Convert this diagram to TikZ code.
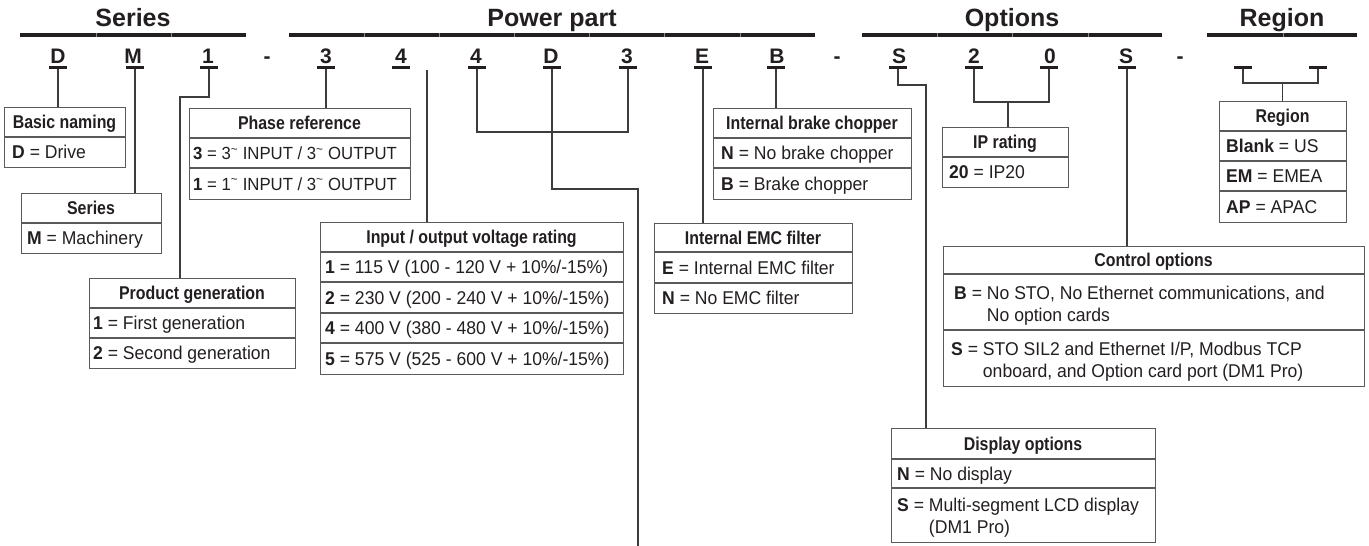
\documentclass[tikz,border=0pt]{standalone}
\usepackage{fontspec}
\setmainfont{Liberation Sans}[FakeStretch=0.95]
\newfontfamily\hdfont{Liberation Sans}[FakeStretch=0.86]
\newfontfamily\titlefont{Liberation Sans}
\definecolor{ink}{HTML}{231F20}
\definecolor{boxgray}{HTML}{5A5A5A}
\definecolor{linegray}{HTML}{3C3C3C}
\definecolor{sepgray}{HTML}{8A8A8A}
\newcommand\tld{\textsuperscript{\textasciitilde}}
\tikzset{
  frame/.style={draw=boxgray, line width=1.2pt, inner sep=0pt, anchor=north west},
  divider/.style={draw=boxgray, line width=1.2pt},
  hd/.style={anchor=base, text=ink, font=\hdfont\bfseries\fontsize{18.5}{20}\selectfont, inner sep=0pt},
  rowtxt/.style={anchor=base west, text=ink, font=\fontsize{18.5}{22}\selectfont, inner sep=0pt},
  rowtight/.style={rowtxt, font=\fontsize{17.6}{22}\selectfont},
  conn/.style={draw=linegray, line width=1.2pt},
  code/.style={anchor=base, font=\titlefont\bfseries\fontsize{21}{24}\selectfont, text=ink, inner sep=0pt},
  uline/.style={fill=ink, minimum width=18pt, minimum height=3pt, inner sep=0pt},
  title/.style={anchor=base, font=\titlefont\bfseries\fontsize{25}{28}\selectfont, text=ink, inner sep=0pt},
}
\begin{document}
\begin{tikzpicture}[x=1pt,y=-1pt]
\useasboundingbox[fill=white] (0,0) rectangle (1369,546);

% ---- titles and bars
\node[title] (tSeries) at (133,27) {Series};
\node[title] (tPower) at (552,27) {Power part};
\node[title] (tOptions) at (1012,27) {Options};
\node[title] (tRegion) at (1282,27) {Region};
\fill[ink] (20,32.5) rectangle (246,37);
\fill[ink] (289,32.5) rectangle (815,37);
\fill[ink] (862,32.5) rectangle (1162,37);
\fill[ink] (1207,32.5) rectangle (1357,37);
\foreach \sx in {96,171,364,439,514,589,664,740,937,1012,1088,1283}
  \draw[sepgray, line width=0.8pt] (\sx,32.5) -- (\sx,37);

% ---- code letters
\node[code] (cD) at (58,63) {D};
\node[code] (cM) at (133,63) {M};
\node[code] (c1) at (208,63) {1};
\node[code] (dash1) at (267,63) {-};
\node[code] (c3) at (326,63) {3};
\node[code] (c4) at (401,63) {4};
\node[code] (c4b) at (476,63) {4};
\node[code] (cDb) at (551,63) {D};
\node[code] (c3b) at (627,63) {3};
\node[code] (cE) at (702,63) {E};
\node[code] (cB) at (777,63) {B};
\node[code] (dash2) at (837,63) {-};
\node[code] (cS1) at (899,63) {S};
\node[code] (c2) at (974,63) {2};
\node[code] (c0) at (1050,63) {0};
\node[code] (cS2) at (1126,63) {S};
\node[code] (dash3) at (1180,63) {-};

\node[uline] (uD) at (58,67) {};
\node[uline] (uM) at (135,67) {};
\node[uline] (u1) at (209,67) {};
\node[uline] (u3) at (326,67) {};
\node[uline] (u4) at (401,67) {};
\node[uline] (u4b) at (477,67) {};
\node[uline] (uDb) at (552,67) {};
\node[uline] (u3b) at (628,67) {};
\node[uline] (uE) at (703,67) {};
\node[uline] (uB) at (776,67) {};
\node[uline] (uS1) at (898,67) {};
\node[uline] (u2) at (974,67) {};
\node[uline] (u0) at (1049,67) {};
\node[uline] (uS2) at (1127,67) {};
\node[uline] (uR1) at (1243,67) {};
\node[uline] (uR2) at (1318,67) {};

% ---- boxes
% Basic naming
\node[frame, minimum width=121pt, minimum height=60pt] (basic) at (4,107) {};
\draw[divider] (4,137) -- (125,137);
\node[hd] (basicH) at (64.5,128.7) {Basic naming};
\node[rowtxt] (basic1) at (12,158.7) {\textbf{D} = Drive};

% Series
\node[frame, minimum width=140pt, minimum height=60pt] (series) at (21,193) {};
\draw[divider] (21,223) -- (161,223);
\node[hd] (seriesH) at (91,214.7) {Series};
\node[rowtxt] (series1) at (27,244.7) {\textbf{M} = Machinery};

% Product generation
\node[frame, minimum width=206pt, minimum height=90pt] (prodgen) at (89,278) {};
\draw[divider] (89,308) -- (295,308);
\draw[divider] (89,338) -- (295,338);
\node[hd] (prodgenH) at (192,299.7) {Product generation};
\node[rowtxt] (prodgen1) at (93,329.7) {\textbf{1} = First generation};
\node[rowtxt] (prodgen2) at (93,359.7) {\textbf{2} = Second generation};

% Phase reference
\node[frame, minimum width=221pt, minimum height=91pt] (phase) at (189,108) {};
\draw[divider] (189,138) -- (410,138);
\draw[divider] (189,168) -- (410,168);
\node[hd] (phaseH) at (299.5,129.7) {Phase reference};
\node[rowtight] (phase1) at (193,159.7) {\textbf{3} = 3\tld{} INPUT / 3\tld{} OUTPUT};
\node[rowtight] (phase2) at (193,190.2) {\textbf{1} = 1\tld{} INPUT / 3\tld{} OUTPUT};

% Voltage rating
\node[frame, minimum width=303pt, minimum height=152pt] (volt) at (320,222) {};
\draw[divider] (320,252) -- (623,252);
\draw[divider] (320,282) -- (623,282);
\draw[divider] (320,313) -- (623,313);
\draw[divider] (320,343) -- (623,343);
\node[hd] (voltH) at (471.5,243.7) {Input / output voltage rating};
\node[rowtxt] (volt1) at (325,273.7) {\textbf{1} = 115 V (100 - 120 V + 10\%/-15\%)};
\node[rowtxt] (volt2) at (325,304.2) {\textbf{2} = 230 V (200 - 240 V + 10\%/-15\%)};
\node[rowtxt] (volt3) at (325,334.7) {\textbf{4} = 400 V (380 - 480 V + 10\%/-15\%)};
\node[rowtxt] (volt4) at (325,365.2) {\textbf{5} = 575 V (525 - 600 V + 10\%/-15\%)};

% Internal brake chopper
\node[frame, minimum width=198pt, minimum height=91pt] (brake) at (713,108) {};
\draw[divider] (713,138) -- (911,138);
\draw[divider] (713,168) -- (911,168);
\node[hd] (brakeH) at (812,129.7) {Internal brake chopper};
\node[rowtxt] (brake1) at (721,159.7) {\textbf{N} = No brake chopper};
\node[rowtxt] (brake2) at (721,190.2) {\textbf{B} = Brake chopper};

% Internal EMC filter
\node[frame, minimum width=198pt, minimum height=90pt] (emc) at (654,223) {};
\draw[divider] (654,252) -- (852,252);
\draw[divider] (654,283) -- (852,283);
\node[hd] (emcH) at (753,244.2) {Internal EMC filter};
\node[rowtxt] (emc1) at (662,274.2) {\textbf{E} = Internal EMC filter};
\node[rowtxt] (emc2) at (662,304.7) {\textbf{N} = No EMC filter};

% IP rating
\node[frame, minimum width=126pt, minimum height=60pt] (ip) at (942,127) {};
\draw[divider] (942,157) -- (1068,157);
\node[hd] (ipH) at (1005,148.7) {IP rating};
\node[rowtxt] (ip1) at (949,178.7) {\textbf{20} = IP20};

% Region
\node[frame, minimum width=127pt, minimum height=121pt] (region) at (1219,101) {};
\draw[divider] (1219,131) -- (1346,131);
\draw[divider] (1219,161) -- (1346,161);
\draw[divider] (1219,191) -- (1346,191);
\node[hd] (regionH) at (1282.5,122.7) {Region};
\node[rowtxt] (region1) at (1226,152.7) {\textbf{Blank} = US};
\node[rowtxt] (region2) at (1226,182.7) {\textbf{EM} = EMEA};
\node[rowtxt] (region3) at (1226,213.2) {\textbf{AP} = APAC};

% Control options
\node[frame, minimum width=421pt, minimum height=140pt] (control) at (943,246) {};
\draw[divider] (943,274) -- (1364,274);
\draw[divider] (943,330) -- (1364,330);
\node[hd] (controlH) at (1153.5,266.7) {Control options};
\node[rowtxt] (control1) at (954,299) {\textbf{B} = \parbox[t]{400pt}{No STO, No Ethernet communications, and\\No option cards}};
\node[rowtxt] (control2) at (951,355) {\textbf{S} = \parbox[t]{400pt}{STO SIL2 and Ethernet I/P, Modbus TCP\\onboard, and Option card port (DM1 Pro)}};

% Display options
\node[frame, minimum width=264pt, minimum height=114pt] (display) at (891,428) {};
\draw[divider] (891,459) -- (1155,459);
\draw[divider] (891,488) -- (1155,488);
\node[hd] (displayH) at (1023,450.2) {Display options};
\node[rowtxt] (display1) at (897,480.2) {\textbf{N} = No display};
\node[rowtxt] (display2) at (897,511) {\textbf{S} = \parbox[t]{240pt}{Multi-segment LCD display\\(DM1 Pro)}};

% ---- connectors
\coordinate (k1) at (180,97);
\coordinate (vtop) at (427,70);
\coordinate (b43) at (0,132);
\coordinate (kD) at (638,189);
\coordinate (endD) at (638,546);
\coordinate (kS) at (926,85);
\coordinate (bIP) at (0,102);
\coordinate (mIP) at (1008,102);
\coordinate (bR) at (0,83);
\coordinate (mR) at (1282.5,83);

\draw[conn] (uD.south) -- (uD.south |- basic.north);
\draw[conn] (uM.south) -- (uM.south |- series.north);
\draw[conn] (u1.south) |- (k1) -- (k1 |- prodgen.north);
\draw[conn] (u3.south) -- (u3.south |- phase.north);
\draw[conn] (vtop) -- (vtop |- volt.north);
\draw[conn] (u4b.south) -- (u4b.south |- b43) -| (u3b.south);
\draw[conn] (uDb.south) |- (kD) -- (endD);
\draw[conn] (uE.south) -- (uE.south |- emc.north);
\draw[conn] (uB.south) -- (uB.south |- brake.north);
\draw[conn] (uS1.south) |- (kS) -- (kS |- display.north);
\draw[conn] (u2.south) -- (u2.south |- bIP) -| (u0.south);
\draw[conn] (mIP) -- (mIP |- ip.north);
\draw[conn] (uS2.south) -- (uS2.south |- control.north);
\draw[conn] (uR1.south) -- (uR1.south |- bR) -| (uR2.south);
\draw[conn] (mR) -- (mR |- region.north);
\end{tikzpicture}
\end{document}
